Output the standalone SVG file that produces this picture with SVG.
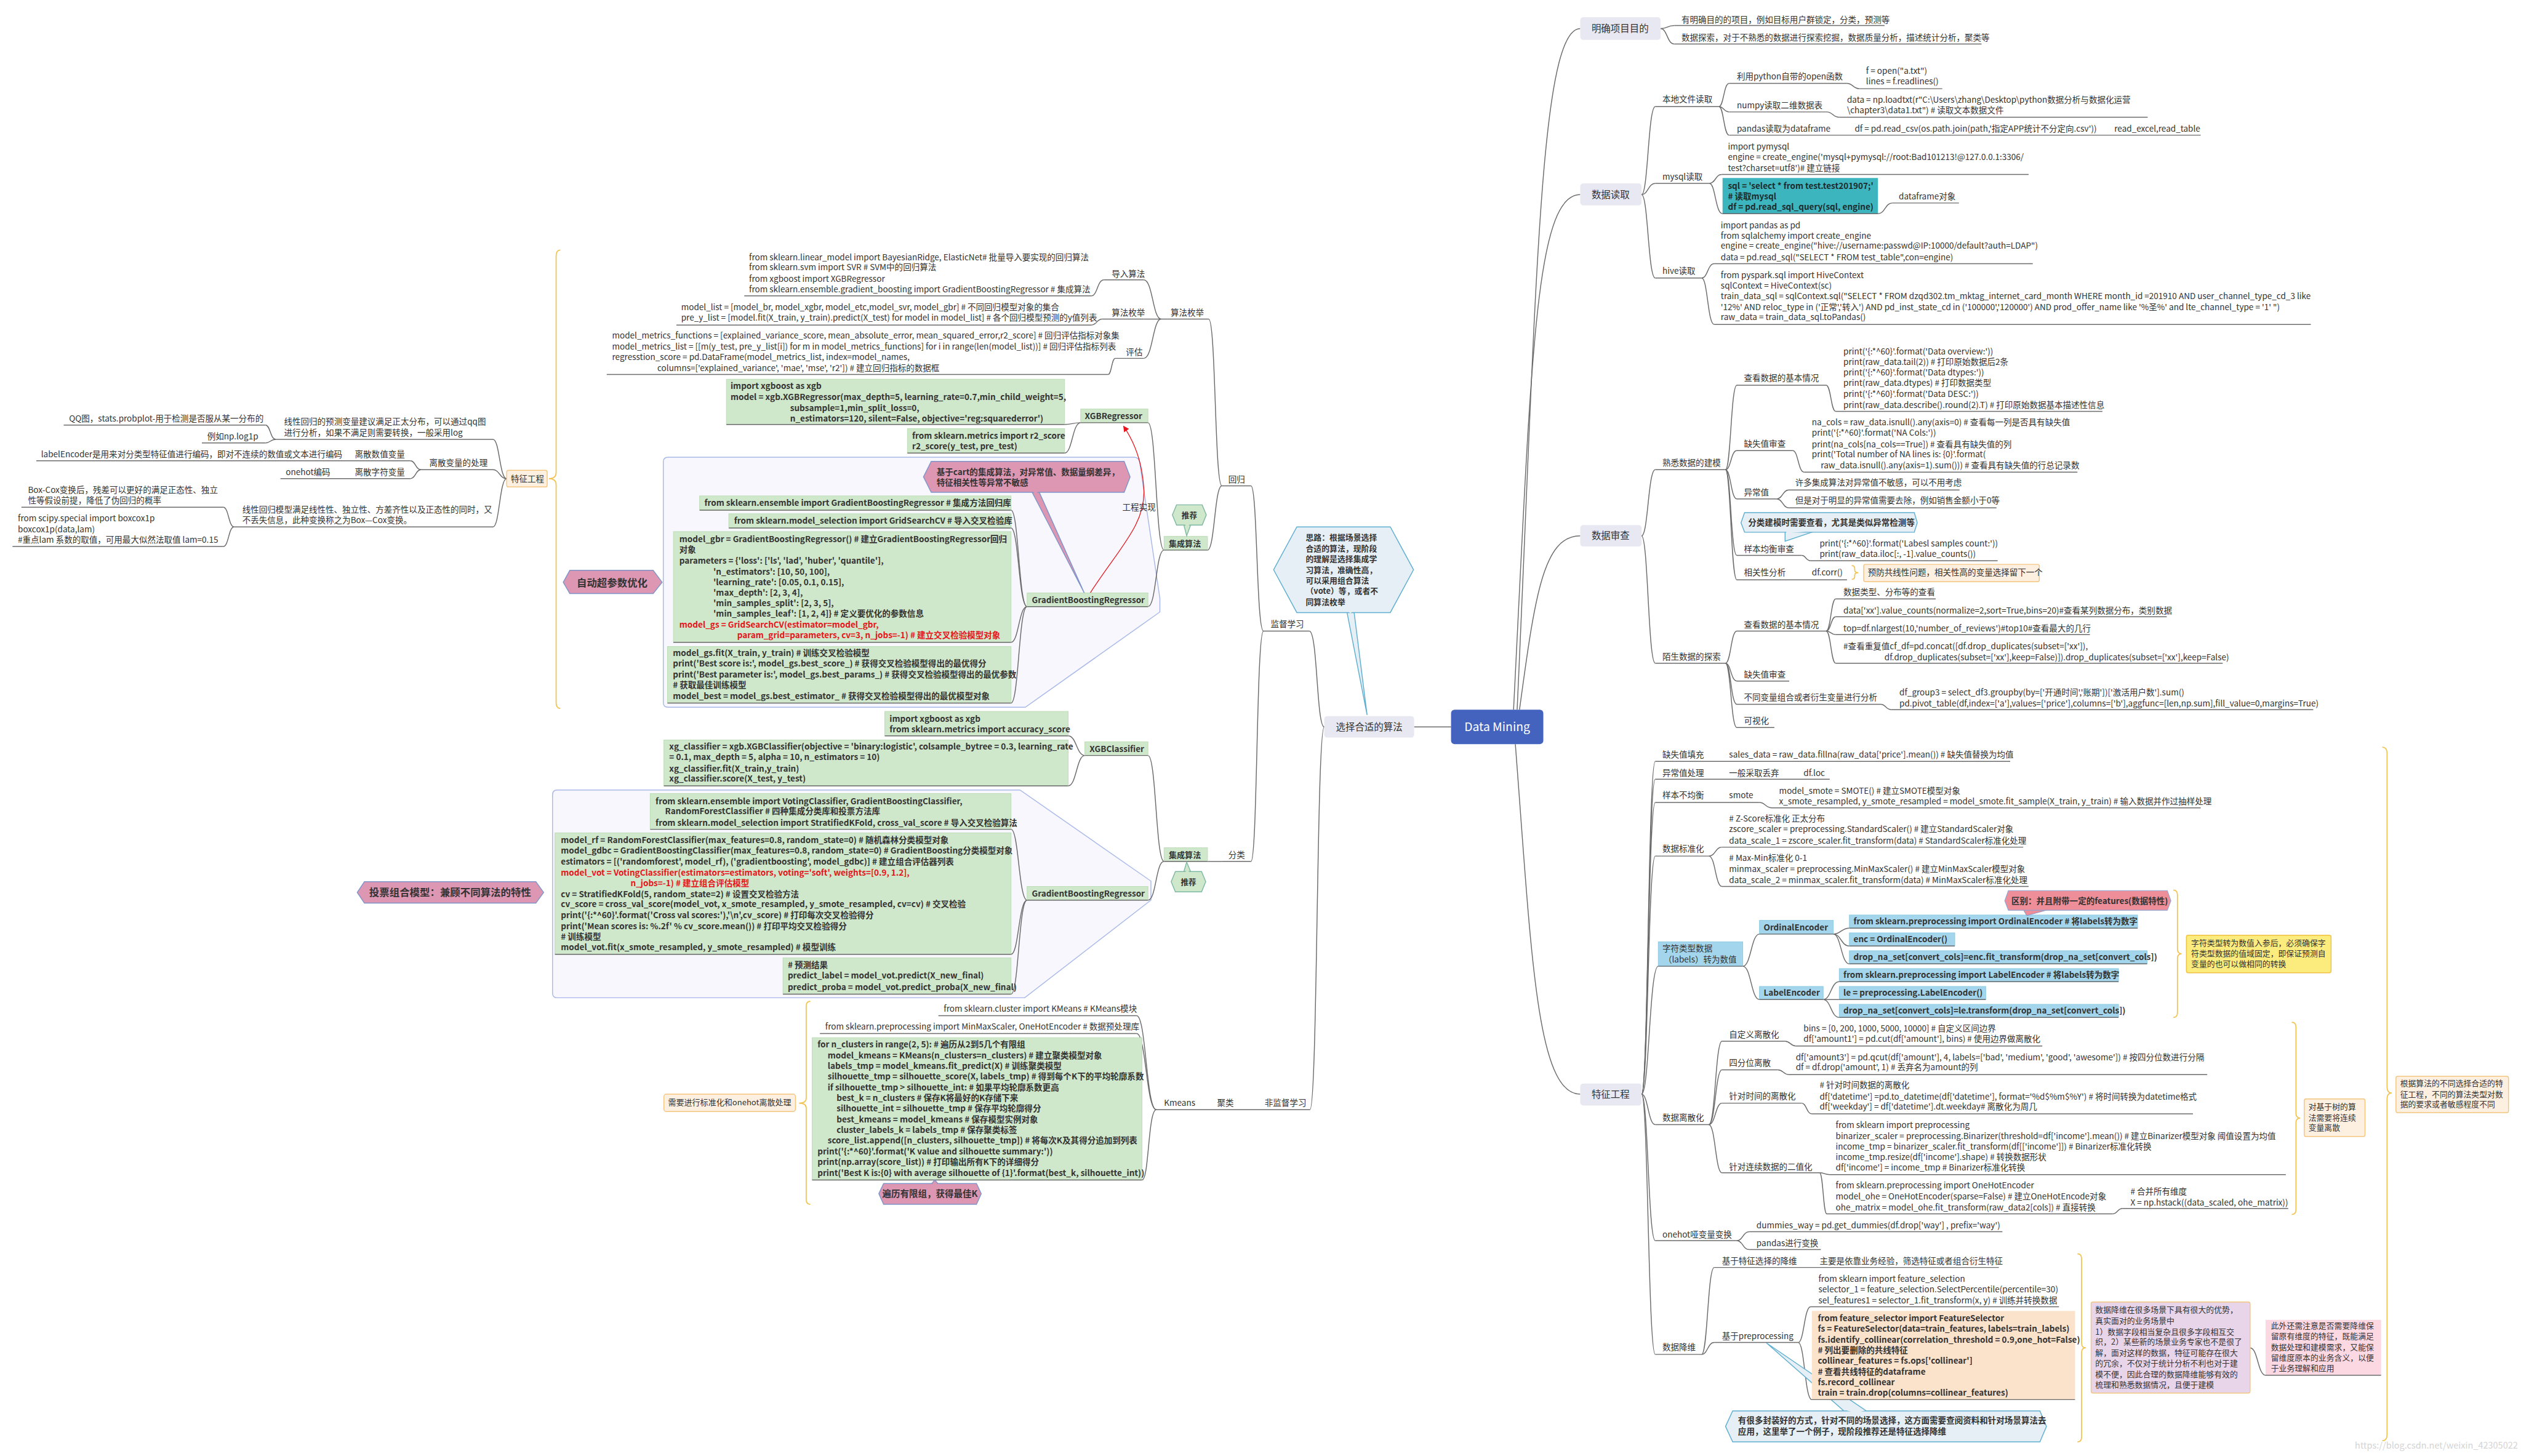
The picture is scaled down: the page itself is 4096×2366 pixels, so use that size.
<svg xmlns="http://www.w3.org/2000/svg" width="4096" height="2366" viewBox="0 0 4096 2366">
<defs>
<style>
text{font-family:"Noto Sans CJK SC","Noto Sans",sans-serif;font-size:14px;fill:#333}
.b{font-weight:bold}
.red{fill:#E8141B}
.sm{font-size:13.3px}
.ln{fill:none;stroke:#6b6b6b;stroke-width:1.5}
.br{fill:none;stroke:#F2C34F;stroke-width:1.8}
.g{fill:#CFE7CA;stroke:#BCDDB5;stroke-width:1}
.bl{fill:#A3D6EC;stroke:#8CC9E2;stroke-width:1}
.pk{fill:#DE97B3;stroke:#7F95C9;stroke-width:1.5}
.cl{fill:#E7EFF6;stroke:#5EAFCF;stroke-width:1.5}
.gc{fill:#CFE7CA;stroke:#7DB9A3;stroke-width:1.5}
.nt{fill:#FDF0E1;stroke:#F3C57E;stroke-width:1.5}
.mn{fill:#E7E8F2}
.bd{fill:#F7F7FD;stroke:#A8B8E8;stroke-width:1.5}
</style>
<marker id="arr" markerUnits="userSpaceOnUse" markerWidth="12" markerHeight="12" refX="9" refY="5" orient="auto"><path d="M0 0 L10 5 L0 10 z" fill="#E8141B"/></marker>
</defs>
<rect width="4096" height="2366" fill="#fff"/>
<g transform="scale(0.96741)">

<!-- boundaries -->
<g id="boundary-autotune"><path class="bd" d="M1122 768 L1905 768 Q1912 768 1914 776 L1948 1005 L1948 1028 L1722 1188 L1122 1188 Q1114 1188 1114 1180 L1114 776 Q1114 768 1122 768 Z"/></g>
<g id="boundary-vote"><path class="bd" d="M936 1327 L1713 1327 L1933 1480 L1933 1512 L1721 1676 L936 1676 Q928 1676 928 1668 L928 1335 Q928 1327 936 1327 Z"/></g>

<!-- connectors -->
<g id="connectors">
<path class="ln" d="M2548 1192 C2580 500 2585 48 2654 48"/>
<path class="ln" d="M2542 1192 C2572 600 2578 327 2654 327"/>
<path class="ln" d="M2552 1192 C2578 1000 2592 900 2654 900"/>
<path class="ln" d="M2545 1250 C2572 1600 2580 1838 2654 1838"/>
<path class="ln" d="M2437 1221 L2375 1221"/>
<path class="ln" d="M2789 48 C2800 48 2800 43 2812 43"/>
<path class="ln" d="M2789 48 C2800 48 2800 74 2812 74"/>
<path class="ln" d="M2757 327 C2768 327 2768 179 2780 179"/>
<path class="ln" d="M2757 327 C2768 327 2768 308 2780 308"/>
<path class="ln" d="M2757 327 C2768 327 2768 467 2780 467"/>
<path class="ln" d="M2887 179 C2895 179 2895 140 2904 140"/>
<path class="ln" d="M2887 179 C2895 179 2895 188 2904 188"/>
<path class="ln" d="M2887 179 C2895 179 2895 227 2904 227"/>
<path class="ln" d="M3102 140 C3112 140 3112 149 3123 149"/>
<path class="ln" d="M3068 188 C3078 188 3078 197 3089 197"/>
<path class="ln" d="M2871 308 C2881 308 2881 293 2892 293"/>
<path class="ln" d="M2871 308 C2881 308 2881 359 2893 359"/>
<path class="ln" d="M3154 359 C3166 359 3166 341 3178 341"/>
<path class="ln" d="M2858 467 C2868 467 2868 443 2879 443"/>
<path class="ln" d="M2858 467 C2868 467 2868 545 2879 545"/>
<path class="ln" d="M2757 900 C2768 900 2768 789 2780 789"/>
<path class="ln" d="M2757 900 C2768 900 2768 1114 2780 1114"/>
<path class="ln" d="M2898 789 C2907 789 2907 647 2917 647"/>
<path class="ln" d="M2898 789 C2907 789 2907 757 2917 757"/>
<path class="ln" d="M2898 789 C2907 789 2907 838 2917 838"/>
<path class="ln" d="M2898 789 C2907 789 2907 933 2917 933"/>
<path class="ln" d="M2898 789 C2907 789 2907 974 2917 974"/>
<path class="ln" d="M3067 647 C3075 647 3075 691 3083 691"/>
<path class="ln" d="M3011 757 C3020 757 3020 793 3030 793"/>
<path class="ln" d="M2984 838 C2994 838 2994 823 3004 823"/>
<path class="ln" d="M2984 838 C2994 838 2994 853 3004 853"/>
<path class="ln" d="M3026 933 C3033 933 3033 942 3041 942"/>
<path class="ln" d="M2898 1114 C2907 1114 2907 1060 2917 1060"/>
<path class="ln" d="M2898 1114 C2907 1114 2907 1144 2917 1144"/>
<path class="ln" d="M2898 1114 C2907 1114 2907 1183 2917 1183"/>
<path class="ln" d="M2898 1114 C2907 1114 2907 1222 2917 1222"/>
<path class="ln" d="M3067 1060 C3075 1060 3075 1006 3083 1006"/>
<path class="ln" d="M3067 1060 C3075 1060 3075 1036 3083 1036"/>
<path class="ln" d="M3067 1060 C3075 1060 3075 1066 3083 1066"/>
<path class="ln" d="M3067 1060 C3075 1060 3075 1114 3083 1114"/>
<path class="ln" d="M3159 1183 C3167 1183 3167 1192 3176 1192"/>
<path class="ln" d="M2757 1838 C2768 1838 2768 1279 2780 1279"/>
<path class="ln" d="M2757 1838 C2768 1838 2768 1309 2780 1309"/>
<path class="ln" d="M2757 1838 C2768 1838 2768 1348 2780 1348"/>
<path class="ln" d="M2757 1838 C2768 1838 2768 1438 2780 1438"/>
<path class="ln" d="M2757 1838 C2770 1838 2770 1623 2785 1623"/>
<path class="ln" d="M2757 1838 C2768 1838 2768 1889 2780 1889"/>
<path class="ln" d="M2757 1838 C2768 1838 2768 2084 2780 2084"/>
<path class="ln" d="M2757 1838 C2768 1838 2768 2275 2780 2275"/>
<path class="ln" d="M2955 1348 C2965 1348 2965 1357 2976 1357"/>
<path class="ln" d="M2870 1438 C2881 1438 2881 1423 2892 1423"/>
<path class="ln" d="M2870 1438 C2881 1438 2881 1489 2892 1489"/>
<path class="ln" d="M2927 1623 C2941 1623 2941 1569 2955 1569"/>
<path class="ln" d="M2927 1623 C2941 1623 2941 1679 2955 1679"/>
<path class="ln" d="M3079 1569 C3092 1569 3092 1559 3106 1559"/>
<path class="ln" d="M3079 1569 C3092 1569 3092 1589 3106 1589"/>
<path class="ln" d="M3079 1569 C3092 1569 3092 1619 3106 1619"/>
<path class="ln" d="M3062 1679 C3075 1679 3075 1649 3089 1649"/>
<path class="ln" d="M3062 1679 L3089 1679"/>
<path class="ln" d="M3062 1679 C3075 1679 3075 1709 3089 1709"/>
<path class="ln" d="M2870 1889 C2881 1889 2881 1749 2892 1749"/>
<path class="ln" d="M2870 1889 C2881 1889 2881 1797 2892 1797"/>
<path class="ln" d="M2870 1889 C2881 1889 2881 1853 2892 1853"/>
<path class="ln" d="M2870 1889 C2881 1889 2881 1970 2892 1970"/>
<path class="ln" d="M2998 1749 C3007 1749 3007 1757 3016 1757"/>
<path class="ln" d="M2986 1797 C2995 1797 2995 1805 3004 1805"/>
<path class="ln" d="M3026 1853 C3034 1853 3034 1871 3043 1871"/>
<path class="ln" d="M3056 1970 C3064 1970 3064 1973 3073 1973"/>
<path class="ln" d="M3056 1970 C3062 1970 3062 2039 3068 2039"/>
<path class="ln" d="M3548 2039 C3556 2039 3556 2030 3565 2030"/>
<path class="ln" d="M2917 2084 C2927 2084 2927 2069 2938 2069"/>
<path class="ln" d="M2917 2084 C2927 2084 2927 2099 2938 2099"/>
<path class="ln" d="M2858 2275 C2868 2275 2868 2129 2879 2129"/>
<path class="ln" d="M2858 2275 C2868 2275 2868 2255 2879 2255"/>
<path class="ln" d="M3020 2255 C3030 2255 3030 2195 3041 2195"/>
<path class="ln" d="M3020 2255 C3031 2255 3031 2351 3043 2351"/>
<path class="ln" d="M3779 2264 C3792 2264 3792 2310 3805 2310"/>
<path class="ln" d="M2224 1221 C2211 1221 2213 1060 2199 1060"/>
<path class="ln" d="M2224 1221 C2211 1221 2213 1864 2200 1864"/>
<path class="ln" d="M2122 1060 C2110 1060 2112 816 2101 816"/>
<path class="ln" d="M2122 1060 C2110 1060 2112 1447 2101 1447"/>
<path class="ln" d="M2052 816 C2040 816 2042 536 2030 536"/>
<path class="ln" d="M2052 816 C2040 816 2040 924 2028 924"/>
<path class="ln" d="M2052 1447 L2028 1447"/>
<path class="ln" d="M1955 924 C1941 924 1942 710 1928 710"/>
<path class="ln" d="M1955 924 C1941 924 1942 1019 1928 1019"/>
<path class="ln" d="M1955 1447 C1941 1447 1942 1269 1928 1269"/>
<path class="ln" d="M1955 1447 C1941 1447 1942 1512 1928 1512"/>
<path class="ln" d="M1815 710 C1801 710 1801 713 1788 713"/>
<path class="ln" d="M1815 710 C1801 710 1801 761 1788 761"/>
<path class="ln" d="M1725 1019 C1711 1019 1711 857 1698 857"/>
<path class="ln" d="M1725 1019 C1711 1019 1711 887 1698 887"/>
<path class="ln" d="M1725 1019 C1711 1019 1711 1079 1698 1079"/>
<path class="ln" d="M1725 1019 C1711 1019 1711 1181 1698 1181"/>
<path class="ln" d="M1822 1269 C1808 1269 1808 1236 1794 1236"/>
<path class="ln" d="M1822 1269 C1808 1269 1808 1320 1794 1320"/>
<path class="ln" d="M1725 1512 C1711 1512 1711 1393 1698 1393"/>
<path class="ln" d="M1725 1512 C1711 1512 1711 1603 1698 1603"/>
<path class="ln" d="M1725 1512 C1711 1512 1711 1670 1698 1670"/>
<path class="ln" d="M1950 536 C1936 536 1936 470 1921 470"/>
<path class="ln" d="M1950 536 L1921 536"/>
<path class="ln" d="M1950 536 C1936 536 1936 602 1921 602"/>
<path class="ln" d="M1854 470 C1843 470 1843 497 1833 497"/>
<path class="ln" d="M1851 536 C1842 536 1842 546 1833 546"/>
<path class="ln" d="M1873 602 C1867 602 1867 629 1861 629"/>
<path class="ln" d="M1942 1864 C1925 1864 1925 1706 1909 1706"/>
<path class="ln" d="M1942 1864 C1925 1864 1925 1736 1909 1736"/>
<path class="ln" d="M1942 1864 C1928 1864 1930 1982 1918 1982"/>
<path class="ln" d="M851 804 C839 804 839 738 828 738"/>
<path class="ln" d="M851 804 C839 804 839 789 828 789"/>
<path class="ln" d="M851 804 C839 804 839 885 828 885"/>
<path class="ln" d="M463 738 C454 738 454 714 446 714"/>
<path class="ln" d="M463 738 C454 738 454 744 446 744"/>
<path class="ln" d="M707 789 C698 789 698 774 689 774"/>
<path class="ln" d="M707 789 C698 789 698 804 689 804"/>
<path class="ln" d="M393 885 C384 885 384 852 375 852"/>
<path class="ln" d="M393 885 C384 885 384 918 375 918"/>
<path d="M1831 996 C1880 920 1925 880 1921 820 C1918 770 1900 735 1887 716" fill="none" stroke="#E8141B" stroke-width="1.3" marker-end="url(#arr)"/>
</g>

<!-- braces -->
<g id="braces">
<path class="br" d="M941 420 Q934 420 934 430 L934 794 Q934 804 922 804 Q934 804 934 814 L934 1180 Q934 1190 941 1190"/>
<path class="br" d="M1361 1682 Q1354 1682 1354 1690 L1354 1845 Q1354 1853 1342 1853 Q1354 1853 1354 1861 L1354 2015 Q1354 2023 1361 2023"/>
<path class="br" d="M3110 950 Q3115 950 3115 955 L3115 958 Q3115 962 3121 962 Q3115 962 3115 966 L3115 968 Q3115 973 3110 973"/>
<path class="br" d="M3650 1495 Q3657 1495 3657 1503 L3657 1594 Q3657 1602 3664 1602 Q3657 1602 3657 1610 L3657 1701 Q3657 1709 3650 1709"/>
<path class="br" d="M3849 1717 Q3856 1717 3856 1725 L3856 1870 Q3856 1878 3863 1878 Q3856 1878 3856 1886 L3856 2032 Q3856 2040 3849 2040"/>
<path class="br" d="M3489 2106 Q3496 2106 3496 2114 L3496 2256 Q3496 2264 3503 2264 Q3496 2264 3496 2272 L3496 2414 Q3496 2422 3489 2422"/>
<path class="br" d="M4001 1255 Q4009 1255 4009 1265 L4009 1826 Q4009 1836 4017 1836 Q4009 1836 4009 1846 L4009 2410 Q4009 2420 4001 2420"/>
</g>

<!-- central -->
<g id="n-datamining"><rect x="2437" y="1192" width="155" height="58" rx="6" fill="#4463BF"/><text x="2514.5" y="1228" text-anchor="middle" style="font-size:20px;fill:#fff">Data Mining</text></g>
<g id="n-select"><rect x="2224" y="1203" width="151" height="36" rx="5" class="mn"/><text x="2299.5" y="1227" text-anchor="middle" style="font-size:16px">选择合适的算法</text></g>
<g id="callout-silu"><polygon class="cl" points="2262,1027 2274,1027 2296,1201"/><polygon class="cl" points="2139,957 2178,885 2335,885 2374,957 2335,1029 2178,1029"/><polygon points="2263,1026 2273,1026 2268,1030" fill="#E7EFF6"/>
<text class="b sm" x="2193" y="908">思路：根据场景选择</text><text class="b sm" x="2193" y="926">合适的算法，现阶段</text><text class="b sm" x="2193" y="944">的理解是选择集成学</text><text class="b sm" x="2193" y="962">习算法，准确性高，</text><text class="b sm" x="2193" y="980">可以采用组合算法</text><text class="b sm" x="2193" y="998">（vote）等，或者不</text><text class="b sm" x="2193" y="1016">同算法枚举</text></g>

<!-- right main nodes -->
<g id="n-goal"><rect x="2654" y="29" width="135" height="38" rx="5" class="mn"/><text x="2673" y="54" style="font-size:16px">明确项目目的</text>
<text x="2824" y="38">有明确目的的项目，例如目标用户群锁定，分类，预测等</text><path class="ln" d="M2812 43 H3165"/>
<text x="2824" y="68">数据探索，对于不熟悉的数据进行探索挖掘，数据质量分析，描述统计分析，聚类等</text><path class="ln" d="M2812 74 H3328"/></g>

<g id="n-read"><rect x="2654" y="308" width="103" height="37" rx="5" class="mn"/><text x="2673" y="333" style="font-size:16px">数据读取</text>
<text x="2792" y="172">本地文件读取</text><path class="ln" d="M2780 179 H2887"/>
<text x="2917" y="133">利用python自带的open函数</text><path class="ln" d="M2904 140 H3102"/>
<text x="3134" y="124">f = open("a.txt")</text><text x="3134" y="142">lines = f.readlines()</text><path class="ln" d="M3123 149 H3262"/>
<text x="2917" y="182">numpy读取二维数据表</text><path class="ln" d="M2904 188 H3068"/>
<text x="3102" y="173">data = np.loadtxt(r"C:\Users\zhang\Desktop\python数据分析与数据化运营</text><text x="3102" y="190">\chapter3\data1.txt") # 读取文本数据文件</text><path class="ln" d="M3089 197 H3607"/>
<text x="2917" y="221">pandas读取为dataframe</text><text x="3115" y="221">df = pd.read_csv(os.path.join(path,'指定APP统计不分定向.csv'))</text><text x="3551" y="221">read_excel,read_table</text><path class="ln" d="M2904 227 H3696"/>
<text x="2792" y="302">mysql读取</text><path class="ln" d="M2780 308 H2871"/>
<text x="2902" y="251">import pymysql</text><text x="2902" y="269">engine = create_engine('mysql+pymysql://root:Bad101213!@127.0.0.1:3306/</text><text x="2902" y="287">test?charset=utf8')# 建立链接</text><path class="ln" d="M2892 293 H3407"/>
<rect x="2893" y="299" width="261" height="60" fill="#3DB5BF"/><path class="ln" d="M2893 359 H3154"/>
<text class="b" x="2902" y="317" style="fill:#1d2b2d">sql = 'select * from test.test201907;'</text><text class="b" x="2902" y="335" style="fill:#1d2b2d"># 读取mysql</text><text class="b" x="2902" y="353" style="fill:#1d2b2d">df = pd.read_sql_query(sql, engine)</text>
<text x="3189" y="335">dataframe对象</text><path class="ln" d="M3178 341 H3290"/>
<text x="2792" y="460">hive读取</text><path class="ln" d="M2780 467 H2858"/>
<text x="2890" y="383">import pandas as pd</text><text x="2890" y="401">from sqlalchemy import create_engine</text><text x="2890" y="418">engine = create_engine("hive://username:passwd@IP:10000/default?auth=LDAP")</text><text x="2890" y="437">data = pd.read_sql("SELECT * FROM test_table",con=engine)</text><path class="ln" d="M2879 443 H3414"/>
<text x="2890" y="467">from pyspark.sql import HiveContext</text><text x="2890" y="485">sqlContext = HiveContext(sc)</text><text x="2890" y="502">train_data_sql = sqlContext.sql("SELECT * FROM dzqd302.tm_mktag_internet_card_month WHERE month_id =201910 AND user_channel_type_cd_3 like</text><text x="2890" y="521">'12%' AND reloc_type in ('正常','转入') AND pd_inst_state_cd in ('100000','120000') AND prod_offer_name like '%圣%' and lte_channel_type = '1' ")</text><text x="2890" y="538">raw_data = train_data_sql.toPandas()</text><path class="ln" d="M2879 545 H3881"/></g>

<g id="n-review"><rect x="2654" y="882" width="103" height="36" rx="5" class="mn"/><text x="2673" y="906" style="font-size:16px">数据审查</text>
<text x="2792" y="782">熟悉数据的建模</text><path class="ln" d="M2780 789 H2898"/>
<text x="2929" y="640">查看数据的基本情况</text><path class="ln" d="M2917 647 H3067"/>
<text x="3096" y="595">print('{:*^60}'.format('Data overview:'))</text><text x="3096" y="613">print(raw_data.tail(2)) # 打印原始数据后2条</text><text x="3096" y="631">print('{:*^60}'.format('Data dtypes:'))</text><text x="3096" y="648">print(raw_data.dtypes) # 打印数据类型</text><text x="3096" y="667">print('{:*^60}'.format('Data DESC:'))</text><text x="3096" y="685">print(raw_data.describe().round(2).T) # 打印原始数据基本描述性信息</text><path class="ln" d="M3083 691 H3531"/>
<text x="2929" y="750">缺失值审查</text><path class="ln" d="M2917 757 H3011"/>
<text x="3043" y="714">na_cols = raw_data.isnull().any(axis=0) # 查看每一列是否具有缺失值</text><text x="3043" y="732">print('{:*^60}'.format('NA Cols:'))</text><text x="3043" y="751">print(na_cols[na_cols==True]) # 查看具有缺失值的列</text><text x="3043" y="768">print('Total number of NA lines is: {0}'.format(</text><text x="3058" y="787">raw_data.isnull().any(axis=1).sum())) # 查看具有缺失值的行总记录数</text><path class="ln" d="M3030 793 H3489"/>
<text x="2929" y="832">异常值</text><path class="ln" d="M2917 838 H2984"/>
<text x="3015" y="816">许多集成算法对异常值不敏感，可以不用考虑</text><path class="ln" d="M3004 823 H3291"/>
<text x="3015" y="846">但是对于明显的异常值需要去除，例如销售金额小于0等</text><path class="ln" d="M3004 853 H3353"/>
<polygon class="cl" points="2998,893 3046,893 2998,909"/><polygon class="cl" points="2924,878 2930,861 3215,861 3220,878 3215,894 2930,894"/><polygon points="3000,892 3044,892 3000,896" fill="#E7EFF6"/>
<text class="b" x="2936" y="883">分类建模时需要查看，尤其是类似异常检测等</text>
<text x="2929" y="927">样本均衡审查</text><path class="ln" d="M2917 933 H3026"/>
<text x="3056" y="918">print('{:*^60}'.format('Labesl samples count:'))</text><text x="3056" y="936">print(raw_data.iloc[:, -1].value_counts())</text><path class="ln" d="M3041 942 H3355"/>
<text x="2929" y="967">相关性分析</text><text x="3043" y="967">df.corr()</text><path class="ln" d="M2917 974 H3102"/>
<rect x="3130" y="948" width="295" height="29" rx="3" class="nt"/><text x="3137" y="967">预防共线性问题，相关性高的变量选择留下一个</text>
<text x="2792" y="1108">陌生数据的探索</text><path class="ln" d="M2780 1114 H2898"/>
<text x="2929" y="1054">查看数据的基本情况</text><path class="ln" d="M2917 1060 H3067"/>
<text x="3096" y="1000">数据类型、分布等的查看</text><path class="ln" d="M3083 1006 H3251"/>
<text x="3096" y="1031">data['xx'].value_counts(normalize=2,sort=True,bins=20)#查看某列数据分布，类别数据</text><path class="ln" d="M3083 1036 H3639"/>
<text x="3096" y="1061">top=df.nlargest(10,'number_of_reviews')#top10#查看最大的几行</text><path class="ln" d="M3083 1066 H3510"/>
<text x="3096" y="1091">#查看重复值cf_df=pd.concat([df.drop_duplicates(subset=['xx']),</text><text x="3165" y="1109">df.drop_duplicates(subset=['xx'],keep=False)]).drop_duplicates(subset=['xx'],keep=False)</text><path class="ln" d="M3083 1114 H3733"/>
<text x="2929" y="1138">缺失值审查</text><path class="ln" d="M2917 1144 H3005"/>
<text x="2929" y="1176">不同变量组合或者衍生变量进行分析</text><path class="ln" d="M2917 1183 H3159"/>
<text x="3190" y="1168">df_group3 = select_df3.groupby(by=['开通时间','账期'])['激活用户数'].sum()</text><text x="3190" y="1187">pd.pivot_table(df,index=['a'],values=['price'],columns=['b'],aggfunc=[len,np.sum],fill_value=0,margins=True)</text><path class="ln" d="M3176 1192 H3885"/>
<text x="2929" y="1216">可视化</text><path class="ln" d="M2917 1222 H2980"/></g>

<g id="n-feature"><rect x="2654" y="1820" width="103" height="37" rx="5" class="mn"/><text x="2673" y="1844" style="font-size:16px">特征工程</text>
<text x="2792" y="1272">缺失值填充</text><text x="2904" y="1272">sales_data = raw_data.fillna(raw_data['price'].mean()) # 缺失值替换为均值</text><path class="ln" d="M2780 1279 H3376"/>
<text x="2792" y="1303">异常值处理</text><text x="2904" y="1303">一般采取丢弃</text><text x="3029" y="1303">df.loc</text><path class="ln" d="M2780 1309 H3073"/>
<text x="2792" y="1341">样本不均衡</text><text x="2904" y="1341">smote</text><path class="ln" d="M2780 1348 H2955"/>
<text x="2988" y="1333">model_smote = SMOTE() # 建立SMOTE模型对象</text><text x="2988" y="1351">x_smote_resampled, y_smote_resampled = model_smote.fit_sample(X_train, y_train) # 输入数据并作过抽样处理</text><path class="ln" d="M2976 1357 H3696"/>
<text x="2792" y="1431">数据标准化</text><path class="ln" d="M2780 1438 H2870"/>
<text x="2904" y="1380"># Z-Score标准化 正太分布</text><text x="2904" y="1398">zscore_scaler = preprocessing.StandardScaler() # 建立StandardScaler对象</text><text x="2904" y="1417">data_scale_1 = zscore_scaler.fit_transform(data) # StandardScaler标准化处理</text><path class="ln" d="M2892 1423 H3398"/>
<text x="2904" y="1446"># Max-Min标准化 0-1</text><text x="2904" y="1465">minmax_scaler = preprocessing.MinMaxScaler() # 建立MinMaxScaler模型对象</text><text x="2904" y="1483">data_scale_2 = minmax_scaler.fit_transform(data) # MinMaxScaler标准化处理</text><path class="ln" d="M2892 1489 H3407"/>
<rect x="2785" y="1582" width="142" height="41" class="bl"/><path class="ln" d="M2785 1623 H2927"/><text x="2792" y="1598">字符类型数据</text><text x="2794" y="1617">（labels）转为数值</text>
<rect x="2955" y="1546" width="124" height="23" class="bl"/><path class="ln" d="M2955 1569 H3079"/><text class="b" x="2962" y="1563">OrdinalEncoder</text>
<rect x="3106" y="1537" width="484" height="22" class="bl"/><path class="ln" d="M3106 1559 H3590"/><text class="b" x="3113" y="1553">from sklearn.preprocessing import OrdinalEncoder # 将labels转为数字</text>
<rect x="3106" y="1567" width="177" height="22" class="bl"/><path class="ln" d="M3106 1589 H3283"/><text class="b" x="3113" y="1583">enc = OrdinalEncoder()</text>
<rect x="3106" y="1597" width="500" height="22" class="bl"/><path class="ln" d="M3106 1619 H3606"/><text class="b" x="3113" y="1613">drop_na_set[convert_cols]=enc.fit_transform(drop_na_set[convert_cols])</text>
<rect x="2955" y="1657" width="107" height="22" class="bl"/><path class="ln" d="M2955 1679 H3062"/><text class="b" x="2962" y="1673">LabelEncoder</text>
<rect x="3089" y="1627" width="469" height="22" class="bl"/><path class="ln" d="M3089 1649 H3558"/><text class="b" x="3096" y="1643">from sklearn.preprocessing import LabelEncoder # 将labels转为数字</text>
<rect x="3089" y="1657" width="246" height="22" class="bl"/><path class="ln" d="M3089 1679 H3335"/><text class="b" x="3096" y="1673">le = preprocessing.LabelEncoder()</text>
<rect x="3089" y="1687" width="469" height="22" class="bl"/><path class="ln" d="M3089 1709 H3558"/><text class="b" x="3096" y="1703">drop_na_set[convert_cols]=le.transform(drop_na_set[convert_cols])</text>
<polygon points="3398,1528 3440,1528 3404,1538" fill="#EE8E98" stroke="#7F95C9" stroke-width="1"/><polygon points="3367,1513 3373,1496 3640,1496 3646,1513 3640,1529 3373,1529" fill="#EE8E98" stroke="#8FA5D3" stroke-width="1.2"/>
<text class="b" x="3378" y="1518">区别：并且附带一定的features(数据特性)</text>
<rect x="3672" y="1571" width="243" height="63" rx="3" fill="#FCEC7E" stroke="#F0C040" stroke-width="1.5"/><text class="sm" x="3680" y="1589">字符类型转为数值入参后，必须确保字</text><text class="sm" x="3680" y="1606">符类型数据的值域固定，即保证预测自</text><text class="sm" x="3680" y="1624">变量的也可以做相同的转换</text>
<text x="2792" y="1882">数据离散化</text><path class="ln" d="M2780 1889 H2870"/>
<text x="2904" y="1743">自定义离散化</text><path class="ln" d="M2892 1749 H2998"/>
<text x="3029" y="1732">bins = [0, 200, 1000, 5000, 10000] # 自定义区间边界</text><text x="3029" y="1750">df['amount1'] = pd.cut(df['amount'], bins) # 使用边界做离散化</text><path class="ln" d="M3016 1757 H3430"/>
<text x="2904" y="1790">四分位离散</text><path class="ln" d="M2892 1797 H2986"/>
<text x="3016" y="1781">df['amount3'] = pd.qcut(df['amount'], 4, labels=['bad', 'medium', 'good', 'awesome']) # 按四分位数进行分隔</text><text x="3016" y="1798">df = df.drop('amount', 1) # 丢弃名为amount的列</text><path class="ln" d="M3004 1805 H3707"/>
<text x="2904" y="1846">针对时间的离散化</text><path class="ln" d="M2892 1853 H3026"/>
<text x="3056" y="1828"># 针对时间数据的离散化</text><text x="3056" y="1847">df['datetime'] =pd.to_datetime(df['datetime'], format='%d$%m$%Y') # 将时间转换为datetime格式</text><text x="3056" y="1864">df['weekday'] = df['datetime'].dt.weekday# 离散化为周几</text><path class="ln" d="M3043 1871 H3683"/>
<text x="2904" y="1965">针对连续数据的二值化</text><path class="ln" d="M2892 1970 H3056"/>
<text x="3083" y="1895">from sklearn import preprocessing</text><text x="3083" y="1913">binarizer_scaler = preprocessing.Binarizer(threshold=df['income'].mean()) # 建立Binarizer模型对象 阈值设置为均值</text><text x="3083" y="1931">income_tmp = binarizer_scaler.fit_transform(df[['income']]) # Binarizer标准化转换</text><text x="3083" y="1948">income_tmp.resize(df['income'].shape) # 转换数据形状</text><text x="3083" y="1966">df['income'] = income_tmp # Binarizer标准化转换</text><path class="ln" d="M3073 1973 H3839"/>
<text x="3083" y="1996">from sklearn.preprocessing import OneHotEncoder</text><text x="3083" y="2015">model_ohe = OneHotEncoder(sparse=False) # 建立OneHotEncode对象</text><text x="3083" y="2033">ohe_matrix = model_ohe.fit_transform(raw_data2[cols]) # 直接转换</text><path class="ln" d="M3068 2039 H3548"/>
<text x="3578" y="2006"># 合并所有维度</text><text x="3578" y="2025">X = np.hstack((data_scaled, ohe_matrix))</text><path class="ln" d="M3565 2030 H3843"/>
<rect x="3870" y="1846" width="102" height="63" rx="3" class="nt"/><text class="sm" x="3877" y="1864">对基于树的算</text><text class="sm" x="3877" y="1882">法需要将连续</text><text class="sm" x="3877" y="1899">变量离散</text>
<text x="2792" y="2079">onehot哑变量变换</text><path class="ln" d="M2780 2084 H2917"/>
<text x="2950" y="2063">dummies_way = pd.get_dummies(df.drop['way'] , prefix='way')</text><path class="ln" d="M2938 2069 H3363"/>
<text x="2950" y="2093">pandas进行变换</text><path class="ln" d="M2938 2099 H3058"/>
<text x="2792" y="2268">数据降维</text><path class="ln" d="M2780 2275 H2858"/>
<text x="2892" y="2123">基于特征选择的降维</text><text x="3056" y="2123">主要是依靠业务经验，筛选特征或者组合衍生特征</text><path class="ln" d="M2879 2129 H3357"/>
<text x="2892" y="2249">基于preprocessing</text><path class="ln" d="M2879 2255 H3020"/>
<text x="3054" y="2153">from sklearn import feature_selection</text><text x="3054" y="2171">selector_1 = feature_selection.SelectPercentile(percentile=30)</text><text x="3054" y="2189">sel_features1 = selector_1.fit_transform(x, y) # 训练并转换数据</text><path class="ln" d="M3041 2195 H3458"/>
<polygon class="cl" points="3098,2371 3136,2371 2967,2256"/>
<rect x="3043" y="2202" width="442" height="149" fill="#FBE2CB"/><path class="ln" d="M3043 2351 H3485"/>
<text class="b" x="3053" y="2219">from feature_selector import FeatureSelector</text><text class="b" x="3053" y="2237">fs = FeatureSelector(data=train_features, labels=train_labels)</text><text class="b" x="3053" y="2255">fs.identify_collinear(correlation_threshold = 0.9,one_hot=False)</text><text class="b" x="3053" y="2273"># 列出要删除的共线特征</text><text class="b" x="3053" y="2291">collinear_features = fs.ops['collinear']</text><text class="b" x="3053" y="2309"># 查看共线特征的dataframe</text><text class="b" x="3053" y="2327">fs.record_collinear</text><text class="b" x="3053" y="2344">train = train.drop(columns=collinear_features)</text>
<polygon class="cl" points="2898,2396 2910,2370 3426,2370 3437,2396 3426,2422 2910,2422"/><polygon points="3100,2369 3134,2369 3117,2373" fill="#E7EFF6"/>
<text class="b" x="2919" y="2391">有很多封装好的方式，针对不同的场景选择，这方面需要查阅资料和针对场景算法去</text><text class="b" x="2919" y="2410">应用，这里举了一个例子，现阶段推荐还是特征选择降维</text>
<rect x="3512" y="2187" width="267" height="153" rx="3" fill="#E9D5EA" stroke="#F3C57E" stroke-width="1.5"/>
<text class="sm" x="3519" y="2205">数据降维在很多场景下具有很大的优势，</text><text class="sm" x="3519" y="2223">真实面对的业务场景中</text><text class="sm" x="3519" y="2242">1）数据字段相当复杂且很多字段相互交</text><text class="sm" x="3519" y="2259">织，2）某些新的场景业务专家也不是很了</text><text class="sm" x="3519" y="2277">解，面对这样的数据，特征可能存在很大</text><text class="sm" x="3519" y="2295">的冗余，不仅对于统计分析不利也对于建</text><text class="sm" x="3519" y="2313">模不便，因此合理的数据降维能够有效的</text><text class="sm" x="3519" y="2331">梳理和熟悉数据情况，且便于建模</text>
<rect x="3805" y="2217" width="194" height="93" fill="#FCD8E3"/><path class="ln" d="M3805 2310 H3999"/>
<text class="sm" x="3814" y="2232">此外还需注意是否需要降维保</text><text class="sm" x="3814" y="2249">留原有维度的特征，既能满足</text><text class="sm" x="3814" y="2268">数据处理和建模需求，又能保</text><text class="sm" x="3814" y="2285">留维度原本的业务含义，以便</text><text class="sm" x="3814" y="2303">于业务理解和应用</text>
<rect x="4024" y="1808" width="189" height="61" rx="3" class="nt"/><text class="sm" x="4031" y="1824">根据算法的不同选择合适的特</text><text class="sm" x="4031" y="1843">征工程，不同的算法类型对数</text><text class="sm" x="4031" y="1860">据的要求或者敏感程度不同</text></g>

<!-- left: algorithm tree -->
<g id="n-supervised"><text x="2134" y="1053">监督学习</text><path class="ln" d="M2122 1060 H2199"/></g>
<g id="n-regression"><text x="2063" y="810">回归</text><path class="ln" d="M2052 816 H2101"/></g>
<g id="n-classification"><text x="2063" y="1441">分类</text><path class="ln" d="M2052 1447 H2101"/></g>
<g id="n-unsupervised"><text x="1955" y="1858">Kmeans</text><text x="2044" y="1858">聚类</text><text x="2124" y="1858">非监督学习</text><path class="ln" d="M1942 1864 H2200"/></g>

<g id="n-enum"><text x="1966" y="530">算法枚举</text><path class="ln" d="M1950 536 H2030"/>
<text x="1867" y="465">导入算法</text><path class="ln" d="M1854 470 H1921"/>
<text x="1867" y="530">算法枚举</text><path class="ln" d="M1851 536 H1921"/>
<text x="1891" y="596">评估</text><path class="ln" d="M1873 602 H1921"/>
<text x="1258" y="437">from sklearn.linear_model import BayesianRidge, ElasticNet# 批量导入要实现的回归算法</text><text x="1258" y="454">from sklearn.svm import SVR # SVM中的回归算法</text><text x="1258" y="473">from xgboost import XGBRegressor</text><text x="1258" y="491">from sklearn.ensemble.gradient_boosting import GradientBoostingRegressor # 集成算法</text><path class="ln" d="M1250 497 H1833"/>
<text x="1144" y="521">model_list = [model_br, model_xgbr, model_etc,model_svr, model_gbr] # 不同回归模型对象的集合</text><text x="1144" y="539">pre_y_list = [model.fit(X_train, y_train).predict(X_test) for model in model_list] # 各个回归模型预测的y值列表</text><path class="ln" d="M1136 546 H1833"/>
<text x="1028" y="569">model_metrics_functions = [explained_variance_score, mean_absolute_error, mean_squared_error,r2_score] # 回归评估指标对象集</text><text x="1028" y="587">model_metrics_list = [[m(y_test, pre_y_list[i]) for m in model_metrics_functions] for i in range(len(model_list))] # 回归评估指标列表</text><text x="1028" y="605">regresstion_score = pd.DataFrame(model_metrics_list, index=model_names,</text><text x="1104" y="623">columns=['explained_variance', 'mae', 'mse', 'r2']) # 建立回归指标的数据框</text><path class="ln" d="M1019 629 H1861"/></g>

<g id="n-ensemble-reg"><rect x="1955" y="901" width="73" height="23" class="g"/><path class="ln" d="M1955 924 H2028"/><text class="b" x="1963" y="918" style="font-size:13.5px">集成算法</text>
<polygon class="gc" points="1988,881 2000,881 1993,900"/><polygon class="gc" points="1969,865 1976,848 2019,848 2026,865 2019,882 1976,882"/><polygon points="1989,880 1999,880 1994,885" fill="#CFE7CA"/><text class="b" x="1997.5" y="870" text-anchor="middle" style="font-size:13px">推荐</text></g>
<g id="n-ensemble-cls"><rect x="1955" y="1424" width="73" height="23" class="g"/><path class="ln" d="M1955 1447 H2028"/><text class="b" x="1963" y="1441" style="font-size:13.5px">集成算法</text>
<polygon class="gc" points="1988,1465 2000,1465 1993,1448"/><polygon class="gc" points="1967,1481 1974,1464 2018,1464 2025,1481 2018,1498 1974,1498"/><polygon points="1989,1466 1999,1466 1994,1462" fill="#CFE7CA"/><text class="b" x="1996" y="1486" text-anchor="middle" style="font-size:13px">推荐</text></g>

<g id="n-xgbr"><rect x="1815" y="687" width="113" height="23" class="g"/><path class="ln" d="M1815 710 H1928"/><text class="b" x="1822" y="704">XGBRegressor</text>
<rect x="1220" y="637" width="568" height="76" class="g"/><path class="ln" d="M1220 713 H1788"/>
<text class="b" x="1227" y="653">import xgboost as xgb</text><text class="b" x="1227" y="672">model = xgb.XGBRegressor(max_depth=5, learning_rate=0.7,min_child_weight=5,</text><text class="b" x="1327" y="690">subsample=1,min_split_loss=0,</text><text class="b" x="1327" y="708">n_estimators=120, silent=False, objective='reg:squarederror')</text>
<rect x="1524" y="720" width="264" height="41" class="g"/><path class="ln" d="M1524 761 H1788"/>
<text class="b" x="1532" y="737">from sklearn.metrics import r2_score</text><text class="b" x="1532" y="755">r2_score(y_test, pre_test)</text></g>

<g id="n-gbr-reg"><rect x="1725" y="996" width="203" height="23" class="g"/><path class="ln" d="M1725 1019 H1928"/><text class="b" x="1733" y="1013">GradientBoostingRegressor</text>
<rect x="1175" y="833" width="523" height="24" class="g"/><path class="ln" d="M1175 857 H1698"/><text class="b" x="1183" y="850">from sklearn.ensemble import GradientBoostingRegressor # 集成方法回归库</text>
<rect x="1224" y="863" width="474" height="24" class="g"/><path class="ln" d="M1224 887 H1698"/><text class="b" x="1233" y="880">from sklearn.model_selection import GridSearchCV # 导入交叉检验库</text>
<rect x="1131" y="893" width="567" height="186" class="g"/><path class="ln" d="M1131 1079 H1698"/>
<text class="b" x="1141" y="911">model_gbr = GradientBoostingRegressor() # 建立GradientBoostingRegressor回归</text><text class="b" x="1141" y="928">对象</text><text class="b" x="1141" y="947">parameters = {'loss': ['ls', 'lad', 'huber', 'quantile'],</text><text class="b" x="1198" y="965">'n_estimators': [10, 50, 100],</text><text class="b" x="1198" y="983">'learning_rate': [0.05, 0.1, 0.15],</text><text class="b" x="1198" y="1001">'max_depth': [2, 3, 4],</text><text class="b" x="1198" y="1018">'min_samples_split': [2, 3, 5],</text><text class="b" x="1198" y="1036">'min_samples_leaf': [1, 2, 4]} # 定义要优化的参数信息</text><text class="b red" x="1141" y="1054">model_gs = GridSearchCV(estimator=model_gbr,</text><text class="b red" x="1238" y="1072">param_grid=parameters, cv=3, n_jobs=-1) # 建立交叉检验模型对象</text>
<rect x="1121" y="1086" width="577" height="95" class="g"/><path class="ln" d="M1121 1181 H1698"/>
<text class="b" x="1130" y="1102">model_gs.fit(X_train, y_train) # 训练交叉检验模型</text><text class="b" x="1130" y="1120">print('Best score is:', model_gs.best_score_) # 获得交叉检验模型得出的最优得分</text><text class="b" x="1130" y="1138">print('Best parameter is:', model_gs.best_params_) # 获得交叉检验模型得出的最优参数</text><text class="b" x="1130" y="1156"># 获取最佳训练模型</text><text class="b" x="1130" y="1174">model_best = model_gs.best_estimator_ # 获得交叉检验模型得出的最优模型对象</text>
<text x="1885" y="857">工程实现</text></g>

<g id="callout-cart"><polygon class="pk" points="1733,826 1745,826 1821,996"/><polygon class="pk" points="1551,801 1564,775 1888,775 1898,801 1888,827 1564,827"/><polygon points="1734,825 1744,825 1739,830" fill="#DE97B3"/>
<text class="b" x="1573" y="798">基于cart的集成算法，对异常值、数据量纲差异，</text><text class="b" x="1573" y="816">特征相关性等异常不敏感</text></g>

<g id="n-autotune"><polygon class="pk" points="946,978 957,958 1097,958 1112,978 1097,997 957,997"/><text class="b" x="1028" y="985" text-anchor="middle" style="font-size:17px">自动超参数优化</text></g>

<g id="n-xgbc"><rect x="1822" y="1246" width="106" height="23" class="g"/><path class="ln" d="M1822 1269 H1928"/><text class="b" x="1830" y="1263">XGBClassifier</text>
<rect x="1486" y="1195" width="308" height="41" class="g"/><path class="ln" d="M1486 1236 H1794"/><text class="b" x="1494" y="1212">import xgboost as xgb</text><text class="b" x="1494" y="1230">from sklearn.metrics import accuracy_score</text>
<rect x="1115" y="1243" width="679" height="77" class="g"/><path class="ln" d="M1115 1320 H1794"/><text class="b" x="1124" y="1259">xg_classifier = xgb.XGBClassifier(objective = 'binary:logistic', colsample_bytree = 0.3, learning_rate</text><text class="b" x="1124" y="1277">= 0.1, max_depth = 5, alpha = 10, n_estimators = 10)</text><text class="b" x="1124" y="1296">xg_classifier.fit(X_train,y_train)</text><text class="b" x="1124" y="1313">xg_classifier.score(X_test, y_test)</text></g>

<g id="n-gbr-cls"><rect x="1725" y="1489" width="203" height="23" class="g"/><path class="ln" d="M1725 1512 H1928"/><text class="b" x="1733" y="1506">GradientBoostingRegressor</text>
<rect x="1092" y="1333" width="606" height="60" class="g"/><path class="ln" d="M1092 1393 H1698"/><text class="b" x="1101" y="1351">from sklearn.ensemble import VotingClassifier, GradientBoostingClassifier,</text><text class="b" x="1117" y="1368">RandomForestClassifier # 四种集成分类库和投票方法库</text><text class="b" x="1101" y="1387">from sklearn.model_selection import StratifiedKFold, cross_val_score # 导入交叉检验算法</text>
<rect x="932" y="1399" width="766" height="204" class="g"/><path class="ln" d="M932 1603 H1698"/>
<text class="b" x="942" y="1416">model_rf = RandomForestClassifier(max_features=0.8, random_state=0) # 随机森林分类模型对象</text><text class="b" x="942" y="1434">model_gdbc = GradientBoostingClassifier(max_features=0.8, random_state=0) # GradientBoosting分类模型对象</text><text class="b" x="942" y="1452">estimators = [('randomforest', model_rf), ('gradientboosting', model_gdbc)] # 建立组合评估器列表</text><text class="b red" x="942" y="1471">model_vot = VotingClassifier(estimators=estimators, voting='soft', weights=[0.9, 1.2],</text><text class="b red" x="1059" y="1488">n_jobs=-1) # 建立组合评估模型</text><text class="b" x="942" y="1507">cv = StratifiedKFold(5, random_state=2) # 设置交叉检验方法</text><text class="b" x="942" y="1524">cv_score = cross_val_score(model_vot, x_smote_resampled, y_smote_resampled, cv=cv) # 交叉检验</text><text class="b" x="942" y="1542">print('{:*^60}'.format('Cross val scores:'),'\n',cv_score) # 打印每次交叉检验得分</text><text class="b" x="942" y="1561">print('Mean scores is: %.2f' % cv_score.mean()) # 打印平均交叉检验得分</text><text class="b" x="942" y="1578"># 训练模型</text><text class="b" x="942" y="1596">model_vot.fit(x_smote_resampled, y_smote_resampled) # 模型训练</text>
<rect x="1315" y="1609" width="383" height="61" class="g"/><path class="ln" d="M1315 1670 H1698"/><text class="b" x="1323" y="1626"># 预测结果</text><text class="b" x="1323" y="1644">predict_label = model_vot.predict(X_new_final)</text><text class="b" x="1323" y="1663">predict_proba = model_vot.predict_proba(X_new_final)</text></g>

<g id="n-vote"><polygon class="pk" points="600,1499 612,1481 900,1481 913,1499 900,1517 612,1517"/><text class="b" x="756" y="1505" text-anchor="middle" style="font-size:17px">投票组合模型：兼顾不同算法的特性</text></g>

<g id="n-kmeans"><text x="1585" y="1699">from sklearn.cluster import KMeans # KMeans模块</text><path class="ln" d="M1576 1706 H1909"/>
<text x="1386" y="1729">from sklearn.preprocessing import MinMaxScaler, OneHotEncoder # 数据预处理库</text><path class="ln" d="M1377 1736 H1909"/>
<rect x="1364" y="1743" width="554" height="239" class="g"/><path class="ln" d="M1364 1982 H1918"/>
<text class="b" x="1373" y="1759">for n_clusters in range(2, 5): # 遍历从2到5几个有限组</text><text class="b" x="1390" y="1778">model_kmeans = KMeans(n_clusters=n_clusters) # 建立聚类模型对象</text><text class="b" x="1390" y="1796">labels_tmp = model_kmeans.fit_predict(X) # 训练聚类模型</text><text class="b" x="1390" y="1813">silhouette_tmp = silhouette_score(X, labels_tmp) # 得到每个K下的平均轮廓系数</text><text class="b" x="1390" y="1832">if silhouette_tmp &gt; silhouette_int: # 如果平均轮廓系数更高</text><text class="b" x="1405" y="1849">best_k = n_clusters # 保存K将最好的K存储下来</text><text class="b" x="1405" y="1867">silhouette_int = silhouette_tmp # 保存平均轮廓得分</text><text class="b" x="1405" y="1885">best_kmeans = model_kmeans # 保存模型实例对象</text><text class="b" x="1405" y="1903">cluster_labels_k = labels_tmp # 保存聚类标签</text><text class="b" x="1390" y="1921">score_list.append([n_clusters, silhouette_tmp]) # 将每次K及其得分追加到列表</text><text class="b" x="1373" y="1939">print('{:*^60}'.format('K value and silhouette summary:'))</text><text class="b" x="1373" y="1957">print(np.array(score_list)) # 打印输出所有K下的详细得分</text><text class="b" x="1373" y="1975">print('Best K is:{0} with average silhouette of {1}'.format(best_k, silhouette_int))</text>
<polygon class="pk" points="1564,1989 1576,1989 1570,1982"/><polygon class="pk" points="1476,2005 1484,1988 1640,1988 1648,2005 1640,2023 1484,2023"/><polygon points="1565,1987 1575,1987 1570,1991" fill="#DE97B3"/>
<text class="b" x="1562" y="2011" text-anchor="middle" style="font-size:15px">遍历有限组，获得最佳K</text>
<rect x="1115" y="1838" width="221" height="29" rx="4" class="nt"/><text x="1122" y="1857" style="font-size:13.5px">需要进行标准化和onehot离散处理</text></g>

<g id="n-feature-note"><rect x="851" y="790" width="68" height="28" rx="3" class="nt"/><text x="858" y="809">特征工程</text>
<text x="477" y="713">线性回归的预测变量建议满足正太分布，可以通过qq图</text><text x="477" y="732">进行分析，如果不满足则需要转换，一般采用log</text><path class="ln" d="M463 738 H828"/>
<text x="116" y="708">QQ图，stats.probplot-用于检测是否服从某一分布的</text><path class="ln" d="M107 714 H446"/>
<text x="348" y="738">例如np.log1p</text><path class="ln" d="M339 744 H446"/>
<text x="721" y="783">离散变量的处理</text><path class="ln" d="M707 789 H828"/>
<text x="69" y="768">labelEncoder是用来对分类型特征值进行编码，即对不连续的数值或文本进行编码</text><text x="596" y="768">离散数值变量</text><path class="ln" d="M61 774 H689"/>
<text x="480" y="798">onehot编码</text><text x="596" y="798">离散字符变量</text><path class="ln" d="M471 804 H689"/>
<text x="407" y="861">线性回归模型满足线性性、独立性、方差齐性以及正态性的同时，又</text><text x="407" y="879">不丢失信息，此种变换称之为Box—Cox变换。</text><path class="ln" d="M393 885 H828"/>
<text x="47" y="828">Box-Cox变换后，残差可以更好的满足正态性、独立</text><text x="47" y="846">性等假设前提，降低了伪回归的概率</text><path class="ln" d="M36 852 H375"/>
<text x="30" y="876">from scipy.special import boxcox1p</text><text x="30" y="894">boxcox1p(data,lam)</text><text x="30" y="912">#重点lam 系数的取值，可用最大似然法取值 lam=0.15</text><path class="ln" d="M21 918 H375"/></g>

<text x="3955" y="2433" style="font-size:15px;fill:#d4d4d4">https://blog.csdn.net/weixin_42305022</text>
</g>
</svg>
